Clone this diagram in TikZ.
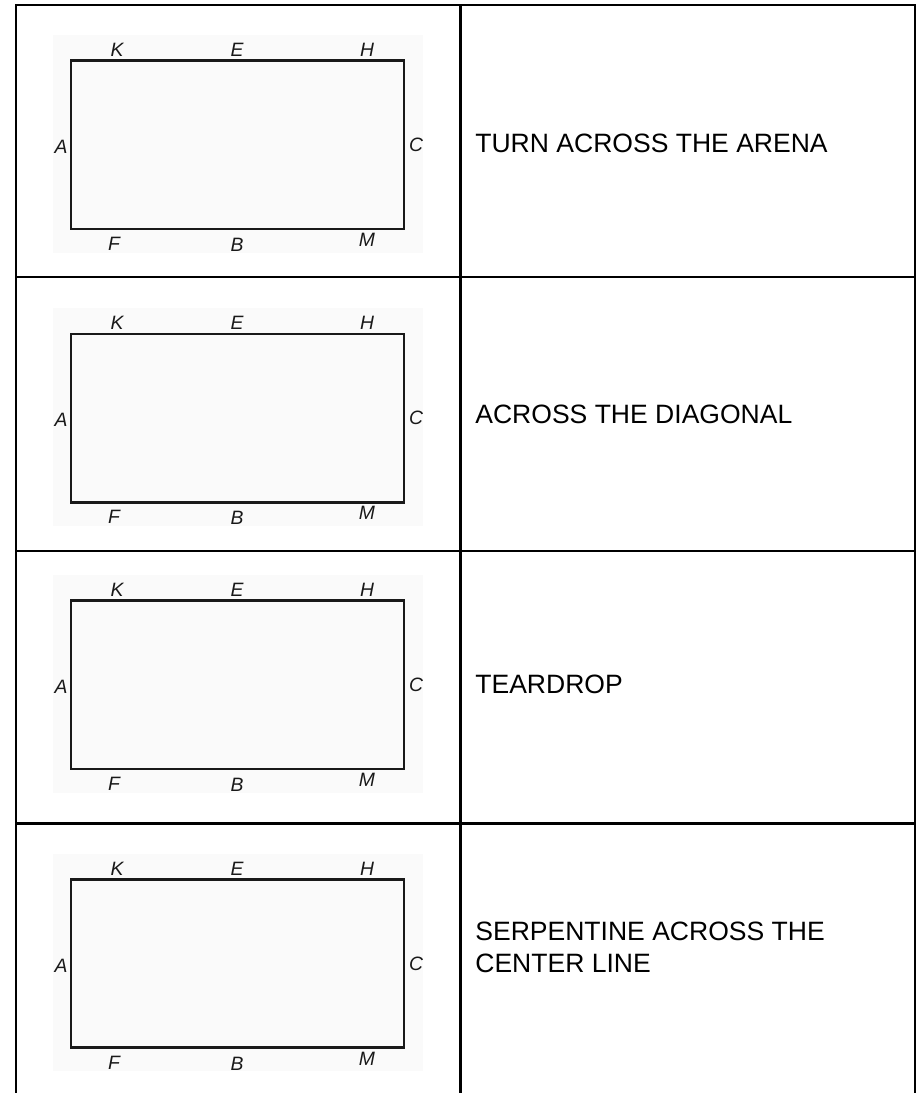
\documentclass[tikz,border=0pt]{standalone}
\usepackage{fontspec}
\setmainfont{Liberation Sans}
\tikzset{
  gridrule/.style={line width=1.15pt, draw=black, line cap=rect},
  arenapad/.style={fill=black!2, draw=none},
  arenawall/.style={line width=1.4pt, draw=black!90, line join=miter},
  marker/.style={inner sep=0pt, font=\fontsize{11}{13}\selectfont\itshape, text=black!90},
  caption/.style={inner sep=0pt, anchor=west, align=left, font=\fontsize{15.1}{18}\selectfont},
}
\begin{document}
\begin{tikzpicture}
\useasboundingbox (0,0) rectangle (18.380,21.860);
% table
\draw[gridrule] (0.320,0) -- (0.320,21.760) -- (18.300,21.760) -- (18.300,0);
\draw[gridrule] (9.210,21.760) -- (9.210,0);
\draw[gridrule] (0.320,16.320) -- (18.300,16.320);
\draw[gridrule] (0.320,10.840) -- (18.300,10.840);
\draw[gridrule] (0.320,5.390) -- (18.300,5.390);
% row 1
\fill[arenapad] (1.060,16.806) rectangle (8.460,21.160);
\draw[arenawall] (1.420,17.280) rectangle (8.080,20.646);
\node[marker] (k1) at (2.340,20.860) {K};
\node[marker] (e1) at (4.740,20.860) {E};
\node[marker] (h1) at (7.340,20.860) {H};
\node[marker] (a1) at (1.220,18.923) {A};
\node[marker] (c1) at (8.320,18.963) {C};
\node[marker] (f1) at (2.280,16.980) {F};
\node[marker] (b1) at (4.740,16.960) {B};
\node[marker] (m1) at (7.340,17.060) {M};
\node[caption] (t1) at (9.500,19.000) {TURN ACROSS THE ARENA};
% row 2
\fill[arenapad] (1.060,11.340) rectangle (8.460,15.694);
\draw[arenawall] (1.420,11.814) rectangle (8.080,15.180);
\node[marker] (k2) at (2.340,15.394) {K};
\node[marker] (e2) at (4.740,15.394) {E};
\node[marker] (h2) at (7.340,15.394) {H};
\node[marker] (a2) at (1.220,13.457) {A};
\node[marker] (c2) at (8.320,13.497) {C};
\node[marker] (f2) at (2.280,11.514) {F};
\node[marker] (b2) at (4.740,11.494) {B};
\node[marker] (m2) at (7.340,11.594) {M};
\node[caption] (t2) at (9.500,13.580) {ACROSS THE DIAGONAL};
% row 3
\fill[arenapad] (1.060,6.006) rectangle (8.460,10.360);
\draw[arenawall] (1.420,6.480) rectangle (8.080,9.846);
\node[marker] (k3) at (2.340,10.060) {K};
\node[marker] (e3) at (4.740,10.060) {E};
\node[marker] (h3) at (7.340,10.060) {H};
\node[marker] (a3) at (1.220,8.123) {A};
\node[marker] (c3) at (8.320,8.163) {C};
\node[marker] (f3) at (2.280,6.180) {F};
\node[marker] (b3) at (4.740,6.160) {B};
\node[marker] (m3) at (7.340,6.260) {M};
\node[caption] (t3) at (9.500,8.166) {TEARDROP};
% row 4
\fill[arenapad] (1.060,0.434) rectangle (8.460,4.788);
\draw[arenawall] (1.420,0.908) rectangle (8.080,4.274);
\node[marker] (k4) at (2.340,4.488) {K};
\node[marker] (e4) at (4.740,4.488) {E};
\node[marker] (h4) at (7.340,4.488) {H};
\node[marker] (a4) at (1.220,2.551) {A};
\node[marker] (c4) at (8.320,2.591) {C};
\node[marker] (f4) at (2.280,0.608) {F};
\node[marker] (b4) at (4.740,0.588) {B};
\node[marker] (m4) at (7.340,0.688) {M};
\node[caption] (t4) at (9.500,2.916) {SERPENTINE ACROSS THE\\CENTER LINE};
\end{tikzpicture}
\end{document}
